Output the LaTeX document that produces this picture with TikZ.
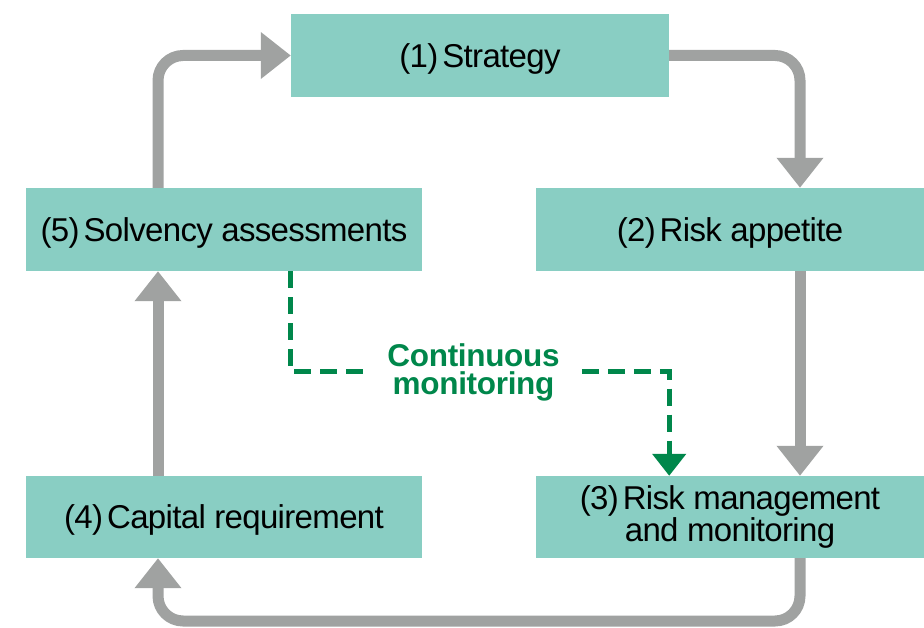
\documentclass[tikz,border=0pt]{standalone}
\usepackage{fontspec}
\setmainfont{Liberation Sans}[LetterSpace=-2]
\newfontfamily\boldgreen{Liberation Sans}[LetterSpace=-1]
\usetikzlibrary{arrows.meta}
\definecolor{mint}{RGB}{137,206,195}
\definecolor{arrowgray}{RGB}{160,162,161}
\definecolor{mongreen}{RGB}{0,135,75}
\newcommand{\nsp}{\hspace{0.12em}}
\begin{document}
\begin{tikzpicture}[x=1pt,y=-1pt,
  stagebox/.style={fill=mint, draw=none, inner sep=0pt, align=center,
    font=\fontsize{33}{30}\selectfont},
  oneline/.style={text depth=0pt},
  flow/.style={draw=arrowgray, line width=11pt, rounded corners=25pt,
    -{Triangle[length=30pt,width=45pt]}, arrowgray},
  monitor/.style={draw=mongreen, line width=5pt, dash pattern=on 17pt off 9pt},
  montip/.style={-{Triangle[length=22pt,width=33pt]}, mongreen}]
\useasboundingbox (0,0) rectangle (924,628);
\node[stagebox, oneline, minimum width=378pt, minimum height=83pt] (b1) at (480,55.5) {(1)\nsp Strategy};
\node[stagebox, oneline, minimum width=388pt, minimum height=83pt] (b2) at (730,229.5) {(2)\nsp Risk appetite};
\node[stagebox, minimum width=388pt, minimum height=82pt] (b3) at (730,517) {(3)\nsp Risk management\\and monitoring};
\node[stagebox, oneline, minimum width=396pt, minimum height=82pt] (b4) at (224,517) {(4)\nsp Capital requirement};
\node[stagebox, oneline, minimum width=396pt, minimum height=83pt] (b5) at (224,229.5) {(5)\nsp Solvency assessments};
\node[text=mongreen, font=\boldgreen\bfseries\fontsize{31.5}{28}\selectfont, align=center,
  inner xsep=22pt, inner ysep=0pt] (cm) at (473.5,372) {Continuous\\monitoring};
\coordinate (L) at (158,0);
\coordinate (R) at (800,0);
\coordinate (B) at (0,621);
\draw[flow] (b5.north -| L) |- (b1.west);
\draw[flow] (b1.east) -| (b2.north -| R);
\draw[flow] (b2.south -| R) -- (b3.north -| R);
\draw[flow] (b3.south -| R) |- (B -| L) -- (b4.south -| L);
\draw[flow] (b4.north -| L) -- (b5.south -| L);
\draw[monitor] (b5.south -| b1.west) |- (cm.west);
\draw[monitor, montip] (cm.east) -| (b3.north -| b1.east);
\end{tikzpicture}
\end{document}
